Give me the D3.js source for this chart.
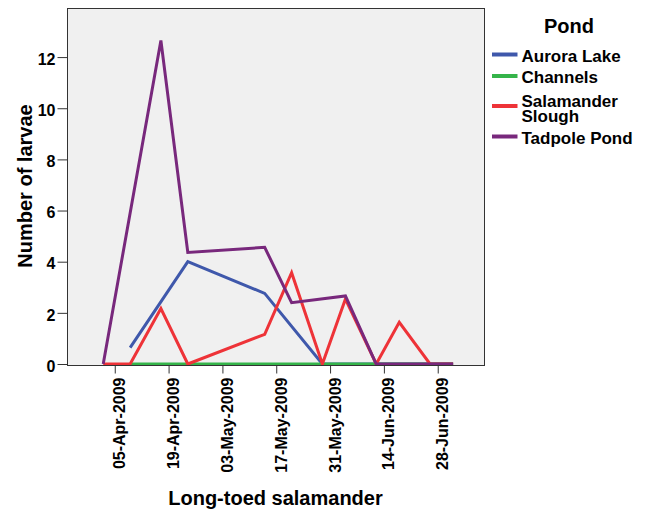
<!DOCTYPE html>
<html>
<head>
<meta charset="utf-8">
<script src="https://cdn.jsdelivr.net/npm/d3@7"></script>
<style>
  body { margin: 0; background: #fff; }
  text { font-family: "Liberation Sans", Arial, sans-serif; font-weight: bold; fill: #000; }
</style>
</head>
<body>
<svg id="chart" width="650" height="512"></svg>
<script>
// ---- data ----
const sampleDates = ["2009-04-02","2009-04-09","2009-04-17","2009-04-24","2009-05-14","2009-05-21",
                     "2009-05-29","2009-06-04","2009-06-12","2009-06-18","2009-06-26","2009-07-02"];
const auroraLake       = [null, 0.64, null, 4.0, 2.76, null, 0, 0, 0, 0, 0, 0];
const channels         = [null, 0, 0, 0, 0, 0, 0, 0, 0, 0, 0, 0];
const salamanderSlough = [0, 0, 2.17, 0, 1.16, 3.57, 0, 2.54, 0, 1.63, 0, 0];
const tadpolePond      = [0, null, 12.65, 4.36, 4.56, 2.4, null, 2.66, 0, 0, 0, 0];
const seriesNames  = ["Aurora Lake", "Channels", "Salamander Slough", "Tadpole Pond"];
const seriesColors = ["#3f58ab", "#35b44a", "#ee3338", "#78287c"];
const xTickLabels  = ["05-Apr-2009","19-Apr-2009","03-May-2009","17-May-2009","31-May-2009","14-Jun-2009","28-Jun-2009"];
const yTicks       = [0, 2, 4, 6, 8, 10, 12];

const seriesValues = [auroraLake, channels, salamanderSlough, tadpolePond];

// ---- layout ----
const svg = d3.select("#chart");
const L = 67.5, R = 484.5, T = 8.5, B = 365.5;
const Y0 = 364;

const parseISO = d3.utcParse("%Y-%m-%d");
const parseLbl = d3.utcParse("%d-%b-%Y");
const fmt = d3.utcFormat("%d-%b-%Y");

const x = d3.scaleUtc()
  .domain([new Date(Date.UTC(2009, 2, 23, 17)), new Date(Date.UTC(2009, 6, 10, 4))])
  .range([L, R]);
const y = d3.scaleLinear().domain([0, 13.9]).range([Y0, T]);

// plot background
svg.append("rect").attr("x", L).attr("y", T).attr("width", R - L).attr("height", B - T)
  .attr("fill", "#f0f0f0");

// clip
svg.append("defs").append("clipPath").attr("id", "clip")
  .append("rect").attr("x", L).attr("y", T).attr("width", R - L).attr("height", B - T);

const line = d3.line().x(d => x(d.date)).y(d => y(d.v));

const g = svg.append("g").attr("clip-path", "url(#clip)");
seriesValues.forEach((vals, i) => {
  const pts = sampleDates.map((d, j) => ({ date: parseISO(d), v: vals[j] })).filter(p => p.v != null);
  g.append("path").datum(pts)
    .attr("d", line)
    .attr("fill", "none")
    .attr("stroke", seriesColors[i])
    .attr("stroke-width", 3)
    .attr("stroke-linejoin", "miter");
});

// frame
svg.append("rect").attr("x", L).attr("y", T).attr("width", R - L).attr("height", B - T)
  .attr("fill", "none").attr("stroke", "#333").attr("stroke-width", 1);

// y axis
const yAxis = d3.axisLeft(y).tickValues(yTicks).tickSize(10).tickPadding(2).tickFormat(d3.format("d"));
const ya = svg.append("g").attr("transform", `translate(${L},0)`).call(yAxis);
ya.select(".domain").remove();
ya.selectAll(".tick line").attr("stroke", "#333");
ya.selectAll(".tick text").attr("font-size", 16).attr("font-family", "Liberation Sans, Arial, sans-serif")
  .attr("font-weight", "bold").attr("fill", "#000").attr("dy", "0.45em");

// x axis
const xAxis = d3.axisBottom(x).tickValues(xTickLabels.map(parseLbl)).tickSize(8).tickFormat(fmt);
const xa = svg.append("g").attr("transform", `translate(0,${B})`).call(xAxis);
xa.select(".domain").remove();
xa.selectAll(".tick line").attr("stroke", "#333");
xa.selectAll(".tick text")
  .attr("font-size", 16).attr("font-family", "Liberation Sans, Arial, sans-serif")
  .attr("font-weight", "bold").attr("fill", "#000")
  .attr("text-anchor", "end")
  .attr("transform", "translate(0,12) rotate(-90)")
  .attr("x", 0).attr("y", 10).attr("dy", null);

// axis titles
svg.append("text").attr("x", 275.5).attr("y", 505).attr("text-anchor", "middle")
  .attr("font-size", 20).text("Long-toed salamander");
svg.append("text").attr("transform", "translate(31.5,186) rotate(-90)").attr("text-anchor", "middle")
  .attr("font-size", 20).text("Number of larvae");

// legend
const lg = svg.append("g");
lg.append("text").attr("x", 569).attr("y", 33).attr("text-anchor", "middle")
  .attr("font-size", 20).text("Pond");
const swY = [54.5, 76, 106, 136.5];
seriesNames.forEach((name, i) => {
  lg.append("line").attr("x1", 492).attr("x2", 517.5).attr("y1", swY[i]).attr("y2", swY[i])
    .attr("stroke", seriesColors[i]).attr("stroke-width", 4);
  const t = lg.append("text").attr("x", 521.5).attr("font-size", 17);
  if (name === "Salamander Slough") {
    t.append("tspan").attr("x", 521.5).attr("y", 106.5).text("Salamander");
    t.append("tspan").attr("x", 521.5).attr("y", 122).text("Slough");
  } else {
    t.attr("y", swY[i] + 7).text(name);
  }
});
</script>
</body>
</html>
